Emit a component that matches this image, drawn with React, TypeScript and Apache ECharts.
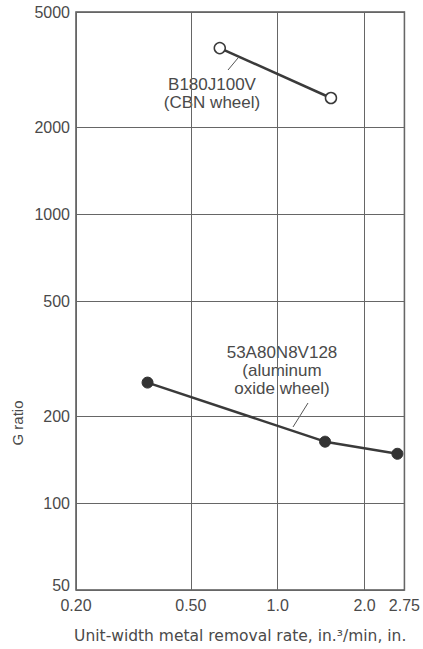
import React, { useEffect, useRef } from "react";
import * as echarts from "echarts";

const xTickValues = [0.2, 0.5, 1.0, 2.0, 2.75];
const xTickLabels = ["0.20", "0.50", "1.0", "2.0", "2.75"];
const yTickValues = [50, 100, 200, 500, 1000, 2000, 5000];
const yTickLabels = ["50", "100", "200", "500", "1000", "2000", "5000"];

const cbnX = [0.63, 1.53];
const cbnY = [3750, 2520];
const aloxX = [0.354, 1.46, 2.6];
const aloxY = [261, 163, 148];

const FONT = "Liberation Sans, Arial, Helvetica, sans-serif";
const WIDE = "DejaVu Sans, sans-serif";
const TXT = "#4a4a4a";
const LINE = "#3a3a3a";

function nearestIndex(v: number, vals: number[]) {
  let best = 0;
  let bd = Infinity;
  vals.forEach((t, i) => {
    const d = Math.abs(Math.log(t) - Math.log(v));
    if (d < bd) {
      bd = d;
      best = i;
    }
  });
  return best;
}

export default function App() {
  const ref = useRef<HTMLDivElement>(null);
  useEffect(() => {
    if (!ref.current) return;
    const chart = echarts.init(ref.current, null, { renderer: "svg" });
    const option: any = {
      animation: false,
      backgroundColor: "#ffffff",
      grid: {
        left: 76,
        right: 17,
        top: 12,
        bottom: 59,
        show: true,
        borderColor: "#555",
        borderWidth: 1.5,
      },
      xAxis: {
        type: "log",
        logBase: 10,
        min: 0.2,
        max: 2.75,
        name: "Unit-width metal removal rate, in.³/min, in.",
        nameLocation: "middle",
        nameGap: 38,
        nameTextStyle: { color: TXT, fontSize: 15.5, fontFamily: WIDE },
        axisLine: { show: false },
        axisTick: { show: false, customValues: xTickValues },
        axisLabel: {
          customValues: xTickValues,
          color: TXT,
          fontSize: 16,
          fontFamily: FONT,
          margin: 7,
          formatter: (v: number) => xTickLabels[nearestIndex(v, xTickValues)],
        },
        splitLine: { show: true, lineStyle: { color: "#666", width: 1 } },
        minorSplitLine: { show: false },
      },
      yAxis: {
        type: "log",
        logBase: 10,
        min: 50,
        max: 5000,
        axisLine: { show: false },
        axisTick: { show: false, customValues: yTickValues },
        axisLabel: {
          customValues: yTickValues,
          color: TXT,
          fontSize: 16,
          fontFamily: FONT,
          margin: 6,
          formatter: (v: number) => {
            const i = nearestIndex(v, yTickValues);
            return i === 0 ? "{lo|" + yTickLabels[i] + "}" : yTickLabels[i];
          },
          rich: {
            lo: {
              color: TXT,
              fontSize: 16,
              fontFamily: FONT,
              padding: [0, 0, 9, 0],
            },
          },
        },
        splitLine: { show: true, lineStyle: { color: "#666", width: 1 } },
      },
      series: [
        {
          type: "line",
          data: cbnX.map((x, i) => [x, cbnY[i]]),
          symbol: "circle",
          symbolSize: 11,
          showSymbol: true,
          lineStyle: { color: LINE, width: 2.5 },
          itemStyle: { color: "#ffffff", borderColor: LINE, borderWidth: 1.5 },
          z: 5,
        },
        {
          type: "line",
          data: aloxX.map((x, i) => [x, aloxY[i]]),
          symbol: "circle",
          symbolSize: 11,
          showSymbol: true,
          lineStyle: { color: LINE, width: 2.5 },
          itemStyle: { color: "#333", borderColor: "#333", borderWidth: 1 },
          z: 5,
        },
      ],
      graphic: [
        {
          type: "text",
          x: 17.5,
          y: 423,
          rotation: Math.PI / 2,
          style: {
            text: "G ratio",
            fill: TXT,
            fontSize: 15,
            fontFamily: FONT,
            align: "center",
            verticalAlign: "middle",
          },
        },
        {
          type: "text",
          x: 212,
          y: 93,
          style: {
            text: "B180J100V\n(CBN wheel)",
            fill: TXT,
            fontSize: 17,
            lineHeight: 18,
            fontFamily: FONT,
            align: "center",
            verticalAlign: "middle",
          },
        },
        {
          type: "line",
          shape: { x1: 228, y1: 70, x2: 238, y2: 58 },
          style: { stroke: "#555", lineWidth: 1 },
        },
        {
          type: "text",
          x: 282,
          y: 370,
          style: {
            text: "53A80N8V128\n(aluminum\noxide wheel)",
            fill: TXT,
            fontSize: 17,
            lineHeight: 18,
            fontFamily: FONT,
            align: "center",
            verticalAlign: "middle",
          },
        },
        {
          type: "line",
          shape: { x1: 293, y1: 427, x2: 308, y2: 403 },
          style: { stroke: "#555", lineWidth: 1 },
        },
      ],
    };
    chart.setOption(option);
    return () => chart.dispose();
  }, []);
  return (
    <div
      ref={ref}
      style={{ position: "fixed", left: 0, top: 0, width: 423, height: 649 }}
    />
  );
}
